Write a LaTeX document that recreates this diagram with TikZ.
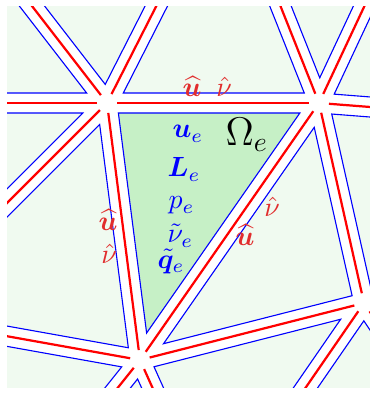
\documentclass[tikz,border=0pt]{standalone}
\usepackage{amsmath,bm}
\usetikzlibrary{calc}
\definecolor{cellgreen}{RGB}{240,250,240}
\definecolor{elemgreen}{RGB}{198,240,198}
\definecolor{tracered}{RGB}{225,45,45}
\newcommand{\cellgap}{3.6}
% triangle shrunk towards its incenter by \cellgap
\newcommand{\celltri}[4][]{%
  \path[cell,#1] let \p1=(#2), \p2=(#3), \p3=(#4),
    \n1={veclen((\x2)-(\x3),(\y2)-(\y3))},
    \n2={veclen((\x3)-(\x1),(\y3)-(\y1))},
    \n3={veclen((\x1)-(\x2),(\y1)-(\y2))},
    \n4={(\n1)+(\n2)+(\n3)},
    \n5={abs((((\x2)-(\x1))/10)*(((\y3)-(\y1))/10)-(((\y2)-(\y1))/10)*(((\x3)-(\x1))/10))/((\n4)/100)},
    \n6={1-\cellgap/(\n5)},
    \p4=({(\n1)/(\n4)*(\x1)+(\n2)/(\n4)*(\x2)+(\n3)/(\n4)*(\x3)},{(\n1)/(\n4)*(\y1)+(\n2)/(\n4)*(\y2)+(\n3)/(\n4)*(\y3)})
  in ({(\x4)+(\n6)*((\x1)-(\x4))},{(\y4)+(\n6)*((\y1)-(\y4))})
  -- ({(\x4)+(\n6)*((\x2)-(\x4))},{(\y4)+(\n6)*((\y2)-(\y4))})
  -- ({(\x4)+(\n6)*((\x3)-(\x4))},{(\y4)+(\n6)*((\y3)-(\y4))}) -- cycle;
}
\begin{document}
\begin{tikzpicture}[x=0.36pt, y=-0.36pt,
  cell/.style={draw=blue, line width=0.4pt, fill=cellgreen},
  elem/.style={fill=elemgreen},
  edge/.style={draw=red, line width=0.8pt, shorten <=3.6pt, shorten >=3.6pt},
  trace/.style={text=tracered, inner sep=0pt, anchor=base},
  field/.style={text=blue, inner sep=0pt, anchor=base west}
]
  \fill[white] (0,0) rectangle (370,393);
  \useasboundingbox (0,0) rectangle (370,393);

  \coordinate (A)  at (107,103);
  \coordinate (B)  at (319,103);
  \coordinate (C)  at (140,360);
  \coordinate (D)  at (364,303);
  \coordinate (T)  at (226,-131);
  \coordinate (T0) at (-16,-56);
  \coordinate (L)  at (-200,103);
  \coordinate (H)  at (-106,316);
  \coordinate (TR) at (379,-25);
  \coordinate (R)  at (703,133);
  \coordinate (Q)  at (424,393);
  \coordinate (G)  at (213,522);
  \coordinate (F)  at (60,460);

  \begin{scope}
    \clip (7,7) rectangle (370,387);
    \celltri[elem]{A}{B}{C}
    \celltri{B}{D}{C}
    \celltri{A}{T}{B}
    \celltri{A}{T0}{T}
    \celltri{A}{L}{T0}
    \celltri{A}{H}{L}
    \celltri{A}{C}{H}
    \celltri{B}{T}{TR}
    \celltri{B}{TR}{R}
    \celltri{B}{R}{D}
    \celltri{D}{R}{Q}
    \celltri{D}{Q}{G}
    \celltri{C}{D}{G}
    \celltri{C}{G}{F}
    \celltri{C}{F}{H}

    \draw[edge] (A)--(B); \draw[edge] (A)--(C); \draw[edge] (B)--(C);
    \draw[edge] (A)--(T); \draw[edge] (A)--(T0); \draw[edge] (A)--(L); \draw[edge] (A)--(H);
    \draw[edge] (B)--(T); \draw[edge] (B)--(TR); \draw[edge] (B)--(R); \draw[edge] (B)--(D);
    \draw[edge] (C)--(D); \draw[edge] (C)--(H); \draw[edge] (C)--(F); \draw[edge] (C)--(G);
    \draw[edge] (D)--(G); \draw[edge] (D)--(Q); \draw[edge] (D)--(R);
  \end{scope}

  \node[trace] (uAB) at (192,97) {$\bm{\widehat{u}}$};
  \node[trace] (nAB) at (224,97) {$\hat{\nu}$};
  \node[trace] (uAC) at (108,230) {$\bm{\widehat{u}}$};
  \node[trace] (nAC) at (109,263) {$\hat{\nu}$};
  \node[trace] (nBC) at (272,216) {$\hat{\nu}$};
  \node[trace] (uBC) at (245,245) {$\bm{\widehat{u}}$};

  \node[field] (ue) at (172,138) {$\bm{u}_e$};
  \node[field] (Le) at (167,177) {$\bm{L}_e$};
  \node[field] (pe) at (168,209) {$p_e$};
  \node[field] (ve) at (167,243) {$\tilde{\nu}_e$};
  \node[field] (qe) at (157,268) {$\tilde{\bm{q}}_e$};
  \node[inner sep=0pt, anchor=base west, font=\Large] (omega) at (225,146) {$\Omega_e$};
\end{tikzpicture}
\end{document}
